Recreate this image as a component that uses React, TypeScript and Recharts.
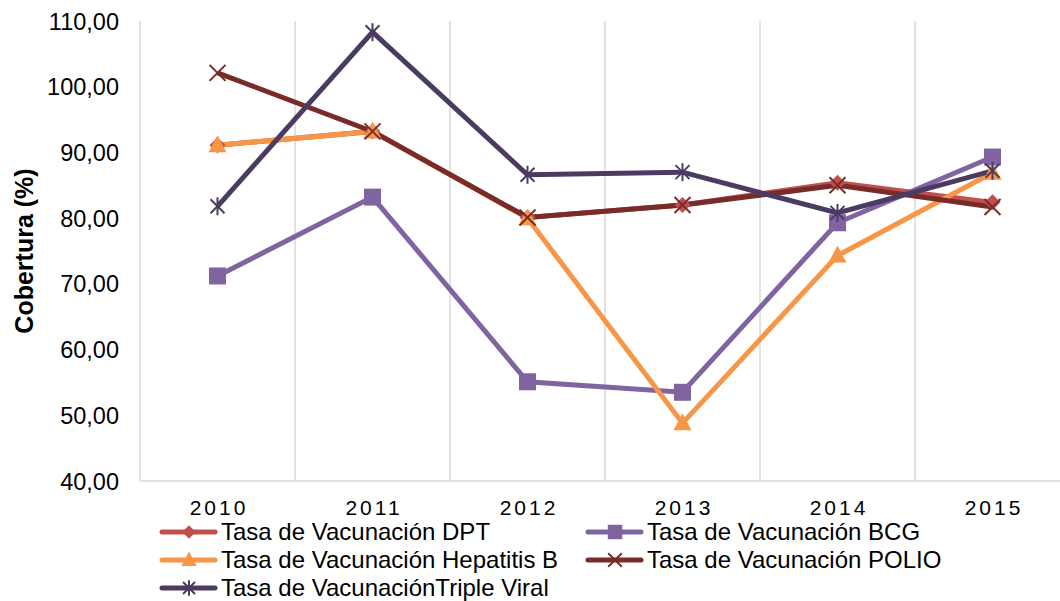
import { LineChart, Line, XAxis, YAxis, ReferenceLine } from 'recharts';

const years = ['2010', '2011', '2012', '2013', '2014', '2015'];
const dpt = [91.1, 93.2, 80.1, 82.0, 85.4, 82.4];
const bcg = [71.2, 83.2, 55.1, 53.5, 79.3, 89.3];
const hepB = [91.1, 93.2, 80.0, 48.8, 74.3, 86.9];
const polio = [102.1, 93.2, 80.1, 82.0, 85.0, 81.7];
const tripleViral = [81.8, 108.3, 86.6, 87.0, 80.8, 87.2];
const yTicks = [40, 50, 60, 70, 80, 90, 100, 110];
const gridAt = [0.5, 1.5, 2.5, 3.5, 4.5];

const FONT = '"Liberation Sans", Arial, sans-serif';
const GRID = '#D9D9D9';

type MarkerKind = 'diamond' | 'square' | 'triangle' | 'x' | 'star';

const series: { key: string; name: string; color: string; marker: MarkerKind }[] = [
  { key: 'dpt', name: 'Tasa de Vacunación DPT', color: '#C0504D', marker: 'diamond' },
  { key: 'bcg', name: 'Tasa de Vacunación BCG', color: '#8064A2', marker: 'square' },
  { key: 'hepB', name: 'Tasa de Vacunación Hepatitis B', color: '#F79646', marker: 'triangle' },
  { key: 'polio', name: 'Tasa de Vacunación POLIO', color: '#772C2A', marker: 'x' },
  { key: 'tripleViral', name: 'Tasa de VacunaciónTriple Viral', color: '#4B3B62', marker: 'star' },
];

const data = years.map((year, i) => ({
  x: i,
  year,
  dpt: dpt[i],
  bcg: bcg[i],
  hepB: hepB[i],
  polio: polio[i],
  tripleViral: tripleViral[i],
}));

function Marker({ kind, cx, cy, color, s = 1 }: { kind: MarkerKind; cx: number; cy: number; color: string; s?: number }) {
  switch (kind) {
    case 'diamond':
      return (
        <polygon
          points={`${cx},${cy - 8 * s} ${cx + 8 * s},${cy} ${cx},${cy + 8 * s} ${cx - 8 * s},${cy}`}
          fill={color}
        />
      );
    case 'square':
      return <rect x={cx - 8.5 * s} y={cy - 8.5 * s} width={17 * s} height={17 * s} fill={color} />;
    case 'triangle':
      return (
        <polygon
          points={`${cx},${cy - 10 * s} ${cx + 9 * s},${cy + 7 * s} ${cx - 9 * s},${cy + 7 * s}`}
          fill={color}
        />
      );
    case 'x':
      return (
        <g stroke={color} strokeWidth={2}>
          <line x1={cx - 8 * s} y1={cy - 8 * s} x2={cx + 8 * s} y2={cy + 8 * s} />
          <line x1={cx - 8 * s} y1={cy + 8 * s} x2={cx + 8 * s} y2={cy - 8 * s} />
        </g>
      );
    default:
      return (
        <g stroke={color} strokeWidth={2}>
          <line x1={cx - 7 * s} y1={cy - 7 * s} x2={cx + 7 * s} y2={cy + 7 * s} />
          <line x1={cx - 7 * s} y1={cy + 7 * s} x2={cx + 7 * s} y2={cy - 7 * s} />
          <line x1={cx} y1={cy - 9 * s} x2={cx} y2={cy + 9 * s} />
        </g>
      );
  }
}

function LegendItem({ s, left, cy }: { s: (typeof series)[number]; left: number; cy: number }) {
  return (
    <div style={{ position: 'absolute', left, top: cy - 14, height: 28, display: 'flex', alignItems: 'center' }}>
      <svg width={60} height={24} style={{ marginRight: 2 }}>
        <line x1={3} y1={12} x2={56} y2={12} stroke={s.color} strokeWidth={5} strokeLinecap="round" />
        <Marker kind={s.marker} cx={30} cy={12} color={s.color} s={0.85} />
      </svg>
      <span style={{ fontFamily: FONT, fontSize: 24, color: '#000', whiteSpace: 'nowrap', lineHeight: '28px' }}>
        {s.name}
      </span>
    </div>
  );
}

export default function App() {
  const legendPos = [
    { left: 159, cy: 532 },
    { left: 585, cy: 532 },
    { left: 159, cy: 560 },
    { left: 585, cy: 560 },
    { left: 159, cy: 588 },
  ];
  return (
    <div
      style={{
        position: 'absolute',
        left: 0,
        top: 0,
        width: 1060,
        height: 601,
        overflow: 'hidden',
        background: '#fff',
      }}
    >
      <LineChart width={1080} height={601} data={data} margin={{ top: 21, right: 10, bottom: 90, left: 0 }}>
        {gridAt.map((g) => (
          <ReferenceLine key={g} x={g} stroke={GRID} strokeWidth={1.5} />
        ))}
        <XAxis
          dataKey="x"
          type="number"
          domain={[-0.5, 5.5]}
          ticks={[0, 1, 2, 3, 4, 5]}
          allowDataOverflow
          stroke={GRID}
          strokeWidth={1.5}
          tickLine={false}
          tickSize={0}
          tick={(p: any) => (
            <text
              x={p.x + 1.5}
              y={p.y + 32}
              textAnchor="middle"
              fontFamily={FONT}
              fontSize={21}
              letterSpacing={3}
              fill="#000"
            >
              {years[p.payload.value]}
            </text>
          )}
        />
        <YAxis
          type="number"
          domain={[40, 110]}
          ticks={yTicks}
          width={140}
          stroke={GRID}
          strokeWidth={1.5}
          tickLine={false}
          tickSize={0}
          tick={(p: any) => (
            <text x={119} y={p.y + 8.5} textAnchor="end" fontFamily={FONT} fontSize={23.5} fill="#000">
              {p.payload.value.toFixed(2).replace('.', ',')}
            </text>
          )}
          label={{
            content: () => (
              <text
                x={33}
                y={251}
                transform="rotate(-90 33 251)"
                textAnchor="middle"
                fontFamily={FONT}
                fontSize={25}
                fontWeight="bold"
                fill="#000"
              >
                Cobertura (%)
              </text>
            ),
          }}
        />
        {series.map((s) => (
          <Line
            key={s.key}
            dataKey={s.key}
            name={s.name}
            stroke={s.color}
            strokeWidth={5}
            isAnimationActive={false}
            dot={(p: any) => (
              <Marker key={`${s.key}-${p.index}`} kind={s.marker} cx={p.cx} cy={p.cy} color={s.color} />
            )}
            activeDot={false}
          />
        ))}
      </LineChart>
      {series.map((s, i) => (
        <LegendItem key={s.key} s={s} left={legendPos[i].left} cy={legendPos[i].cy} />
      ))}
    </div>
  );
}
